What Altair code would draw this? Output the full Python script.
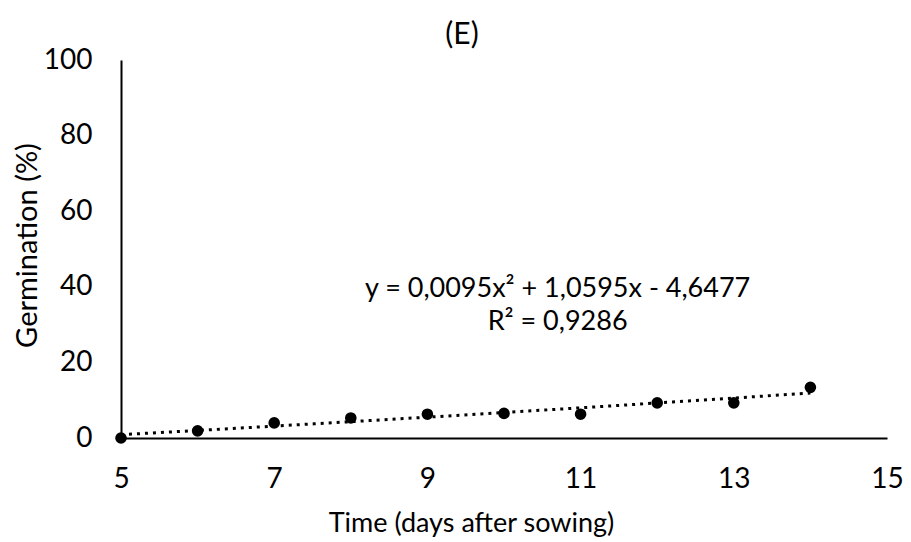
import altair as alt
import pandas as pd

days = [5, 6, 7, 8, 9, 10, 11, 12, 13, 14]
germination = [0.0, 1.9, 4.0, 5.3, 6.3, 6.5, 6.3, 9.3, 9.3, 13.4]

eq_x = [10.7]
eq_y = [39.5]
eq_text = ["y = 0,0095x\u00b2 + 1,0595x - 4,6477\nR\u00b2 = 0,9286"]

x_ticks = [5, 7, 9, 11, 13, 15]
y_ticks = [0, 20, 40, 60, 80, 100]

FONT = "Lato"

df = pd.DataFrame({"day": days, "germ": germination})
eq_df = pd.DataFrame({"x": eq_x, "y": eq_y, "t": eq_text})

xscale = alt.Scale(domain=[5, 15], nice=False, zero=False)
yscale = alt.Scale(domain=[0, 100], nice=False)

xaxis = alt.Axis(values=x_ticks, format="d", grid=False, ticks=False, domainColor="#000", domainWidth=2,
                 labelFont=FONT, labelFontSize=28, labelColor="#000", labelPadding=27, labelFlush=False,
                 title="Time (days after sowing)", titleFont=FONT, titleFontSize=27,
                 titleFontWeight="normal", titleColor="#000", titleX=350, titleY=85,
                 titleBaseline="middle", titleAlign="center")
yaxis = alt.Axis(values=y_ticks, format="d", grid=False, ticks=False, domainColor="#000", domainWidth=2,
                 labelFont=FONT, labelFontSize=28, labelColor="#000", labelPadding=29, labelFlush=False,
                 title="Germination (%)", titleFont=FONT, titleFontSize=29,
                 titleFontWeight="normal", titleColor="#000", titleX=-94, titleY=185,
                 titleBaseline="middle", titleAlign="center", titleAngle=270)

base = alt.Chart(df)

trend = base.transform_regression("day", "germ", method="poly", order=2, extent=[5, 14]).mark_line(
    color="#000", strokeWidth=3, strokeDash=[3, 5]
).encode(
    x=alt.X("day:Q", scale=xscale, axis=xaxis),
    y=alt.Y("germ:Q", scale=yscale, axis=yaxis),
)

pts = base.mark_point(filled=True, color="#000", size=135, opacity=1).encode(
    x=alt.X("day:Q", scale=xscale),
    y=alt.Y("germ:Q", scale=yscale),
)

eq = alt.Chart(eq_df).mark_text(font=FONT, fontSize=27, color="#000", align="center",
                                baseline="middle", lineBreak="\n", lineHeight=33).encode(
    x=alt.X("x:Q", scale=xscale),
    y=alt.Y("y:Q", scale=yscale),
    text="t:N",
)

chart = alt.layer(trend, pts, eq).properties(
    width=766, height=378,
    title=alt.TitleParams("(E)", font=FONT, fontSize=30, fontWeight="normal", color="#000",
                          anchor="middle", dx=-42, offset=-4),
    autosize=alt.AutoSizeParams(type="none"),
    padding={"left": 113, "top": 52, "right": 16, "bottom": 100},
).configure_view(stroke=None)

chart.save("out.html", embed_options={"renderer": "svg", "actions": False})
